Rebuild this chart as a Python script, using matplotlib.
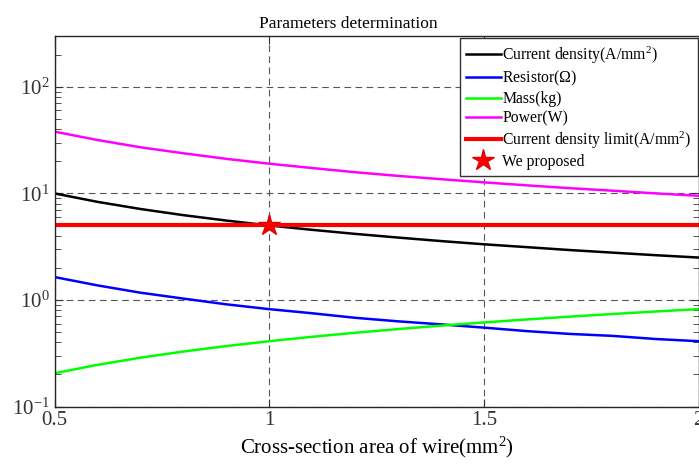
import numpy as np
import matplotlib
matplotlib.use('Agg')
import matplotlib.pyplot as plt

# cross-section area of the wire (mm^2)
area = [0.5, 0.6, 0.7, 0.8, 0.9, 1.0, 1.1, 1.2, 1.3, 1.4, 1.5, 1.6, 1.7, 1.8, 1.9, 2.0]
# current density (A/mm^2)
current_density = [10.0, 8.33, 7.14, 6.25, 5.56, 5.0, 4.55, 4.17, 3.85, 3.57, 3.33, 3.13, 2.94, 2.78, 2.63, 2.5]
# resistance (ohm)
resistor = [1.64, 1.37, 1.17, 1.03, 0.91, 0.82, 0.75, 0.68, 0.63, 0.59, 0.55, 0.51, 0.48, 0.46, 0.43, 0.41]
# mass (kg)
mass = [0.205, 0.246, 0.287, 0.328, 0.369, 0.41, 0.451, 0.492, 0.533, 0.574, 0.615, 0.656, 0.697, 0.738, 0.779, 0.82]
# power (W)
power = [38.0, 31.7, 27.1, 23.8, 21.1, 19.0, 17.3, 15.8, 14.6, 13.6, 12.7, 11.9, 11.2, 10.6, 10.0, 9.5]
# limit and chosen design point
density_limit = 5.0
proposed_area = 1.0
proposed_density = 5.0

plt.rcParams['font.family'] = ['Liberation Serif', 'DejaVu Serif']
plt.rcParams['mathtext.fontset'] = 'custom'
plt.rcParams['mathtext.rm'] = 'Liberation Serif'
plt.rcParams['mathtext.it'] = 'Liberation Serif:italic'

fig = plt.figure(figsize=(6.99, 4.66), dpi=100)
ax = fig.add_axes([54.5 / 699, 1 - 406.5 / 466, (698.5 - 54.5) / 699, (406.5 - 36) / 466])

ax.plot(area, current_density, color='black', lw=1.8, label='Current density(A/mm$^2$)')
ax.plot(area, resistor, color='blue', lw=1.8, label='Resistor($\\Omega$)')
ax.plot(area, mass, color='#00ff00', lw=1.8, label='Mass(kg)')
ax.plot(area, power, color='magenta', lw=1.8, label='Power(W)')
ax.plot([area[0], area[-1]], [density_limit, density_limit], color='red', lw=3, label='Current density limit(A/mm$^2$)')
ax.plot(proposed_area, proposed_density, '*', color='red', mec='#e00000', ms=16, ls='none', label='We proposed')

ax.set_yscale('log')
ax.set_xlim(0.5, 2)
ax.set_ylim(0.1, 300)
ax.set_xticks([0.5, 1, 1.5, 2])
ax.set_xticklabels(['0.5', '1', '1.5', '2'])

ax.grid(True, which='major', ls=(0, (6, 4)), color='#555555', lw=0.8)
for t in ax.yaxis.get_major_ticks():
    if abs(t.get_loc() - 1.0) < 1e-9:
        t.gridline.set_color('#b0b0b0')
        t.gridline.set_linewidth(1.2)

ax.tick_params(which='both', direction='in', top=True, right=True, colors='#333333', labelsize=15)
ax.tick_params(which='major', length=6)
ax.tick_params(which='minor', length=4)
for s in ax.spines.values():
    s.set_color('#262626')
    s.set_linewidth(1.0)

ax.set_xlabel('Cross-section area of wire(mm$^2$)', fontsize=15, color='black', labelpad=3)
ax.set_title('Parameters determination', fontsize=12.5, x=0.456, pad=6)

leg = ax.legend(loc='upper right', bbox_to_anchor=(698 / 699, 1 - 38 / 466),
                bbox_transform=fig.transFigure, fontsize=11.3, frameon=True, fancybox=False,
                framealpha=1, edgecolor='#333333', borderaxespad=0, handlelength=2.2,
                handletextpad=0.1, borderpad=0.4, labelspacing=0.2)
leg.get_frame().set_linewidth(1.0)

fig.savefig('out.png', dpi=100)
